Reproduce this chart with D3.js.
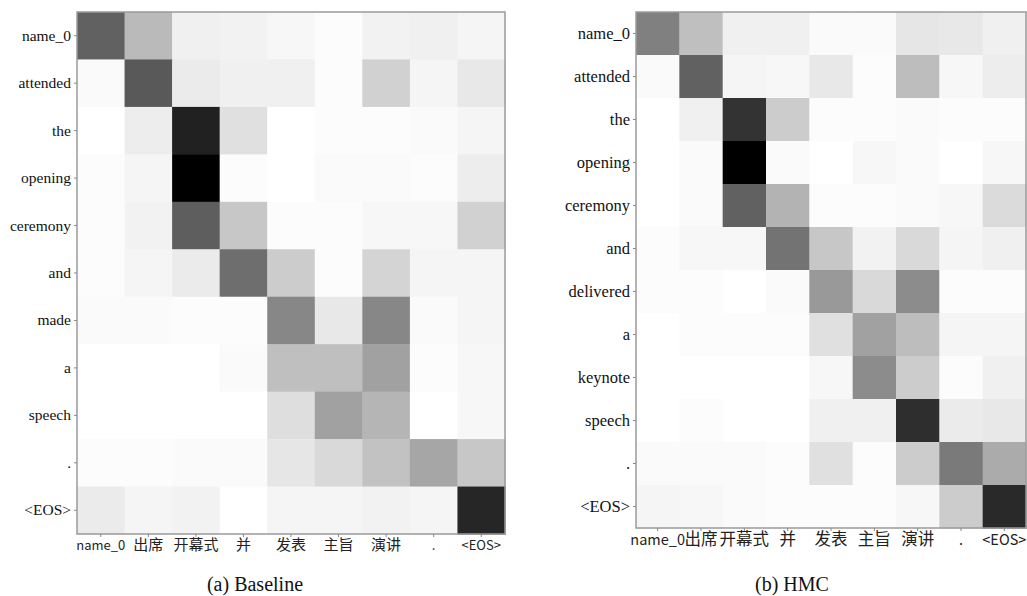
<!DOCTYPE html>
<html><head><meta charset="utf-8">
<script src="https://cdn.jsdelivr.net/npm/d3@7"></script>
<style>body{margin:0;background:#fff}svg{display:block}</style>
</head><body>
<svg id="c" width="1027" height="596"></svg>
<script>
const srcTokens = ["name_0","出席","开幕式","并","发表","主旨","演讲",".","<EOS>"];
const rowsA = ["name_0","attended","the","opening","ceremony","and","made","a","speech",".","<EOS>"];
const valsA = [
 [0.62,0.27,0.06,0.05,0.03,0.01,0.05,0.06,0.04],
 [0.02,0.65,0.08,0.06,0.06,0.01,0.18,0.04,0.09],
 [0.00,0.07,0.87,0.12,0.00,0.01,0.01,0.02,0.04],
 [0.01,0.04,1.00,0.01,0.00,0.02,0.02,0.01,0.07],
 [0.01,0.05,0.63,0.22,0.01,0.01,0.03,0.03,0.18],
 [0.01,0.04,0.08,0.57,0.20,0.01,0.17,0.04,0.04],
 [0.02,0.02,0.01,0.01,0.47,0.09,0.47,0.02,0.04],
 [0.00,0.00,0.00,0.02,0.25,0.25,0.37,0.01,0.03],
 [0.00,0.00,0.00,0.00,0.13,0.37,0.29,0.00,0.03],
 [0.01,0.01,0.02,0.02,0.10,0.15,0.24,0.35,0.22],
 [0.08,0.04,0.05,0.00,0.04,0.04,0.05,0.04,0.85]
];
const rowsB = ["name_0","attended","the","opening","ceremony","and","delivered","a","keynote","speech",".","<EOS>"];
const valsB = [
 [0.50,0.25,0.06,0.06,0.02,0.02,0.10,0.09,0.06],
 [0.02,0.62,0.04,0.03,0.09,0.01,0.26,0.03,0.07],
 [0.00,0.06,0.80,0.20,0.01,0.01,0.02,0.01,0.01],
 [0.00,0.02,1.00,0.02,0.00,0.03,0.02,0.00,0.03],
 [0.00,0.02,0.62,0.30,0.01,0.01,0.02,0.03,0.14],
 [0.01,0.03,0.03,0.55,0.22,0.05,0.15,0.04,0.06],
 [0.01,0.01,0.00,0.02,0.40,0.15,0.45,0.01,0.01],
 [0.00,0.01,0.01,0.01,0.12,0.37,0.26,0.04,0.04],
 [0.00,0.00,0.00,0.00,0.03,0.45,0.20,0.01,0.06],
 [0.00,0.01,0.00,0.00,0.06,0.06,0.82,0.08,0.09],
 [0.02,0.02,0.02,0.01,0.12,0.01,0.20,0.52,0.33],
 [0.04,0.03,0.02,0.01,0.01,0.01,0.03,0.20,0.84]
];
const captions = ["(a) Baseline","(b) HMC"];

const svg = d3.select("#c");
const color = d3.scaleLinear().domain([0,1]).range(["#ffffff","#000000"]);
const isCJK = s => /[\u4e00-\u9fff]/.test(s);

function heat(rows, vals, box, caption, capX, ySize, xLat, xCjk) {
  const g = svg.append("g");
  const x = d3.scaleBand().domain(srcTokens).range([box.x0, box.x1]);
  const y = d3.scaleBand().domain(rows).range([box.y0, box.y1]);
  rows.forEach((r, i) => {
    g.selectAll(null).data(vals[i]).enter().append("rect")
      .attr("x", (d, j) => x(srcTokens[j]))
      .attr("y", y(r))
      .attr("width", x.bandwidth() + 0.5)
      .attr("height", y.bandwidth() + 0.5)
      .attr("fill", d => color(d));
  });
  g.append("rect").attr("x", box.x0).attr("y", box.y0)
    .attr("width", box.x1 - box.x0).attr("height", box.y1 - box.y0)
    .attr("fill", "none").attr("stroke", "#9a9a9a").attr("stroke-width", 1.5);
  const ya = g.append("g").attr("transform", `translate(${box.x0},0)`)
    .call(d3.axisLeft(y).tickSize(3).tickPadding(3));
  ya.select(".domain").remove();
  ya.selectAll("line").attr("stroke", "#888");
  ya.selectAll("text").attr("font-family", "Liberation Serif, serif")
    .attr("font-size", ySize).attr("fill", "#111");
  const xa = g.append("g").attr("transform", `translate(0,${box.y1})`)
    .call(d3.axisBottom(x).tickSize(3).tickPadding(3));
  xa.select(".domain").remove();
  xa.selectAll("line").attr("stroke", "#888");
  xa.selectAll("text").attr("font-family", "Noto Sans CJK SC, sans-serif")
    .attr("font-size", d => isCJK(d) ? xCjk : xLat).attr("fill", "#222")
    .attr("dy", d => isCJK(d) ? "0.65em" : "0.75em");
  svg.append("text").attr("x", capX).attr("y", 591).attr("text-anchor", "middle")
    .attr("font-family", "Liberation Serif, serif").attr("font-size", 20)
    .attr("fill", "#111").text(caption);
}

heat(rowsA, valsA, {x0: 77, x1: 505, y0: 12, y1: 534}, captions[0], 255, 15.5, 13, 15);
heat(rowsB, valsB, {x0: 636, x1: 1026, y0: 12, y1: 528}, captions[1], 792, 16.5, 14.5, 16.5);
</script>
</body></html>
